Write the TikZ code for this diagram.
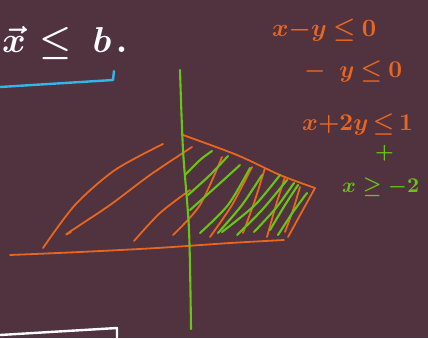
\documentclass[tikz,border=0pt]{standalone}
\usepackage{amsmath}
\usepackage{graphicx}
\definecolor{board}{HTML}{51323F}
\definecolor{penorange}{HTML}{E8661E}
\definecolor{pengreen}{HTML}{68C416}
\definecolor{penblue}{HTML}{30B6EA}
\newcommand{\bigink}[2]{\scalebox{#1}{\boldmath#2}}
\begin{document}
\begin{tikzpicture}[x=1pt,y=-1pt,
    ink/.style={line width=1.8pt,line cap=round,line join=round},
    orangeline/.style={ink,draw=penorange},
    greenline/.style={ink,draw=pengreen,line width=2.1pt},
    orangetext/.style={text=penorange,inner sep=0pt,anchor=base west},
    greentext/.style={text=pengreen,inner sep=0pt,anchor=base west}]
  \fill[board] (0,0) rectangle (428,338);
  \clip (0,0) rectangle (428,338);
  % board text
  \node[text=white,inner sep=0pt,anchor=base west]
    (lhs) at (2,52) {\bigink{3.6}{$\vec{x}\mkern1mu\leq\mkern4mu b\mkern2mu.$}};
  \draw[ink,draw=penblue,line width=2.4pt] (0,87) -- (113,80) -- (114,71);
  \draw[ink,draw=white,line width=2.4pt] (0,335) -- (117,328) -- (117,340);
  \node[orangetext] (ineqA) at (272,36) {\bigink{2.5}{$x{-}y\mkern4mu{\leq}\mkern4mu 0$}};
  \node[orangetext] (ineqB) at (304,77) {\bigink{2.4}{$-\mkern9mu y\mkern4mu{\leq}\mkern4mu 0$}};
  \node[orangetext] (ineqC) at (302,130) {\bigink{2.4}{$x{+}2y\mkern3mu{\leq}\mkern3mu 1$}};
  \node[greentext] (plus) at (375,158) {\bigink{2.1}{$+$}};
  \node[greentext] (ineqD) at (342,192) {\bigink{2.1}{$x\geq -2$}};
  % region
  \begin{scope}[orangeline]
    \draw plot[smooth] coordinates {(10,255) (80,252) (157,248) (230,243) (284,240)};
    \draw plot[smooth] coordinates {(183,135) (237,155) (280,175) (315,188)};
    \draw (315,188) -- (288,237);
    \draw plot[smooth] coordinates {(43,248) (75,205) (115,170) (163,144)};
    \draw plot[smooth] coordinates {(71,232) (68,233) (110,205) (150,175) (192,147)};
    \draw plot[smooth] coordinates {(134,241) (160,213) (190,190)};
    \draw plot[smooth] coordinates {(173,235) (200,205) (222,157)};
    \draw plot[smooth] coordinates {(210,237) (232,205) (252,167)};
    \draw plot[smooth] coordinates {(243,233) (255,200) (265,168)};
    \draw plot[smooth] coordinates {(267,237) (276,205) (285,177)};
    \draw plot[smooth] coordinates {(285,232) (293,210) (300,187)};
  \end{scope}
  \begin{scope}[greenline]
    \draw plot[smooth] coordinates {(180,70) (183,150) (189,230) (191,329)};
    \draw plot[smooth] coordinates {(185,175) (200,160) (212,151)};
    \draw plot[smooth] coordinates {(188,195) (210,175) (228,156)};
    \draw plot[smooth] coordinates {(190,210) (218,185) (240,165)};
    \draw plot[smooth] coordinates {(200,233) (228,205) (250,168)};
    \draw plot[smooth] coordinates {(218,233) (242,205) (262,175)};
    \draw plot[smooth] coordinates {(222,232) (255,205) (280,175)};
    \draw plot[smooth] coordinates {(237,235) (262,210) (287,180)};
    \draw plot[smooth] coordinates {(254,232) (276,208) (294,183)};
    \draw plot[smooth] coordinates {(270,230) (285,205) (298,185)};
    \draw plot[smooth] coordinates {(278,235) (293,212) (307,193)};
  \end{scope}
\end{tikzpicture}
\end{document}
